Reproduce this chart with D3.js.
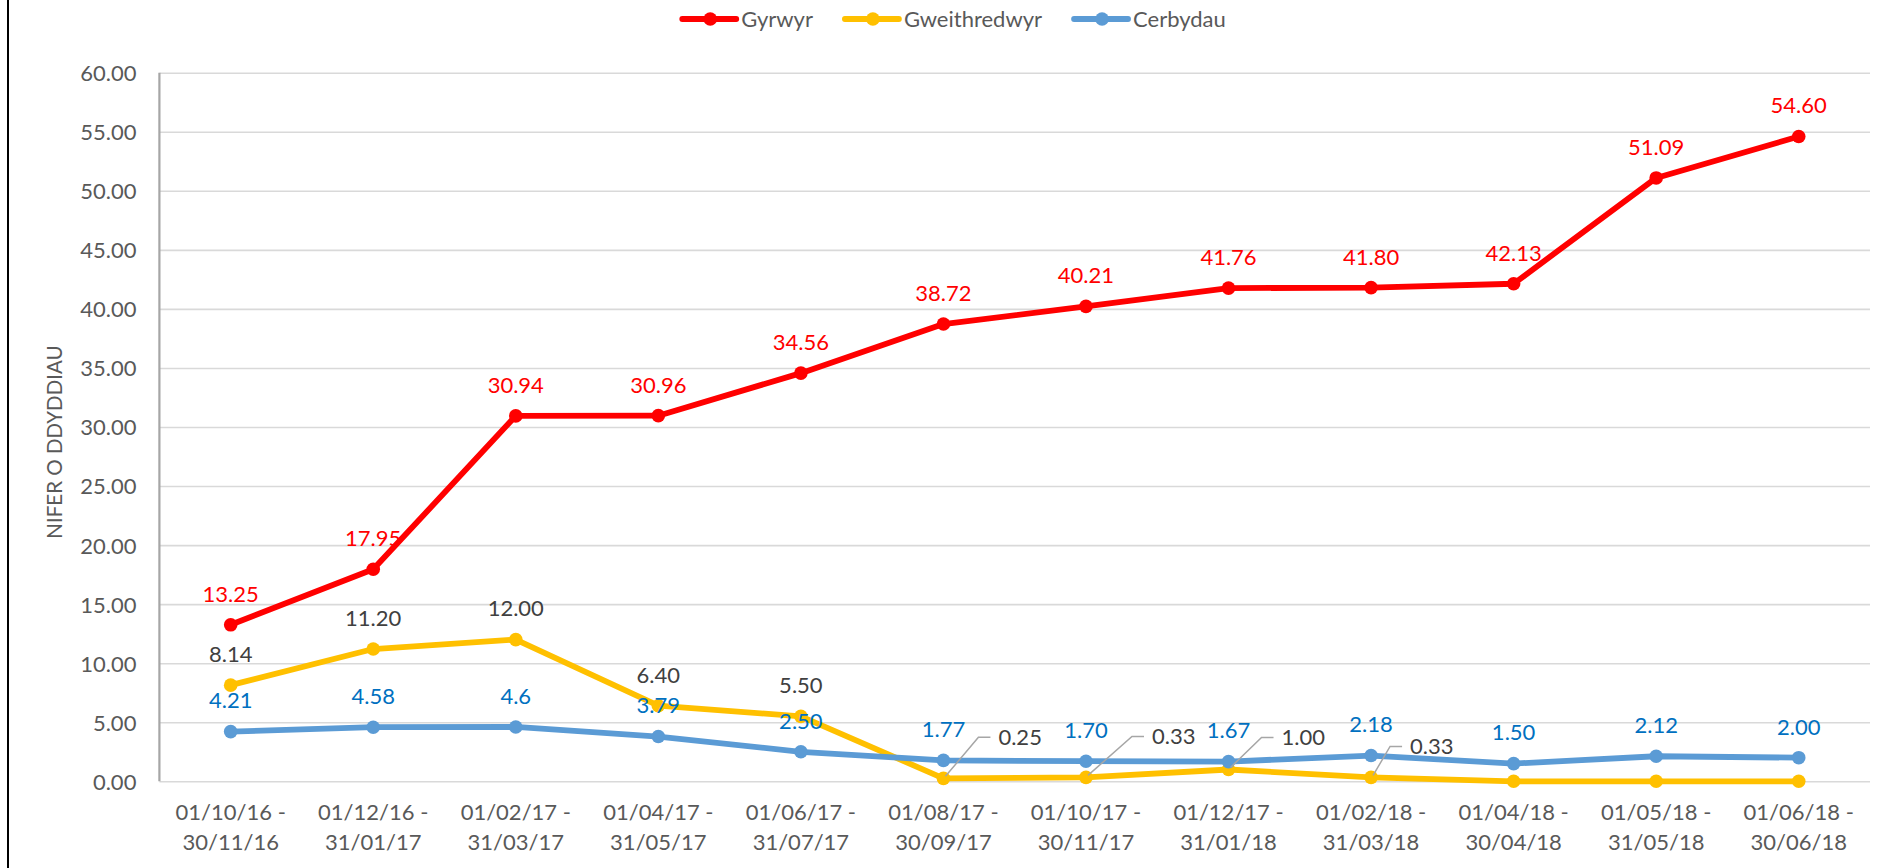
<!DOCTYPE html>
<html>
<head>
<meta charset="utf-8">
<script src="https://cdn.jsdelivr.net/npm/d3@7"></script>
<style>
  body { margin: 0; background: #fff; }
  svg text { font-family: Lato, "Open Sans", sans-serif; }
</style>
</head>
<body>
<svg id="chart" width="1894" height="868"></svg>
<script>

// categories (two-line period labels)
var periods = [
  "01/10/16 -|30/11/16", "01/12/16 -|31/01/17", "01/02/17 -|31/03/17", "01/04/17 -|31/05/17",
  "01/06/17 -|31/07/17", "01/08/17 -|30/09/17", "01/10/17 -|30/11/17", "01/12/17 -|31/01/18",
  "01/02/18 -|31/03/18", "01/04/18 -|30/04/18", "01/05/18 -|31/05/18", "01/06/18 -|30/06/18"
];

var gyrwyr       = [13.25, 17.95, 30.94, 30.96, 34.56, 38.72, 40.21, 41.76, 41.80, 42.13, 51.09, 54.60];
var gweithredwyr = [8.14, 11.20, 12.00, 6.40, 5.50, 0.25, 0.33, 1.00, 0.33, 0, 0, 0];
var cerbydau     = [4.21, 4.58, 4.6, 3.79, 2.50, 1.77, 1.70, 1.67, 2.18, 1.50, 2.12, 2.00];

// data label texts (null = no label shown)
var gyrwyrLabels       = ["13.25", "17.95", "30.94", "30.96", "34.56", "38.72", "40.21", "41.76", "41.80", "42.13", "51.09", "54.60"];
var gweithredwyrLabels = ["8.14", "11.20", "12.00", "6.40", "5.50", "0.25", "0.33", "1.00", "0.33", null, null, null];
var cerbydauLabels     = ["4.21", "4.58", "4.6", "3.79", "2.50", "1.77", "1.70", "1.67", "2.18", "1.50", "2.12", "2.00"];

var yTicks = [0, 5, 10, 15, 20, 25, 30, 35, 40, 45, 50, 55, 60];

var series = [
  {name: "Gyrwyr", values: gyrwyr, labels: gyrwyrLabels, color: "#FF0000", labelColor: "#FF0000"},
  {name: "Gweithredwyr", values: gweithredwyr, labels: gweithredwyrLabels, color: "#FFC000", labelColor: "#404040"},
  {name: "Cerbydau", values: cerbydau, labels: cerbydauLabels, color: "#5B9BD5", labelColor: "#0070C0"}
];

// manually moved labels (with leader lines) on the Gweithredwyr series: [index, dx to text start, dy]
var movedLabels = {5: [55, -41], 6: [66, -41], 7: [53, -32], 8: [39, -31]};

var fs = "22px";

var svg = d3.select("#chart"),
    margin = {top: 72.7, right: 24, bottom: 86.7, left: 159.4},
    width = +svg.attr("width") - margin.left - margin.right,
    height = +svg.attr("height") - margin.top - margin.bottom,
    g = svg.append("g").attr("transform", "translate(" + margin.left + "," + margin.top + ")");

// left frame edge
svg.append("line")
    .attr("x1", 8).attr("x2", 8).attr("y1", 0).attr("y2", 868)
    .attr("stroke", "#000").attr("stroke-width", 2);

var x = d3.scaleBand()
    .domain(periods)
    .range([0, width]);

var y = d3.scaleLinear()
    .domain([0, 60])
    .range([height, 0]);

function cx(i) { return x(periods[i]) + x.bandwidth() / 2; }

// gridlines
g.append("g")
    .call(d3.axisLeft(y).tickValues(yTicks).tickSize(-width).tickFormat(""))
    .call(function(s) { s.select(".domain").remove(); })
    .selectAll("line")
      .attr("stroke", "#D9D9D9")
      .attr("stroke-width", 1.6);

// y axis labels
var yAxis = g.append("g")
    .call(d3.axisLeft(y).tickValues(yTicks).tickSize(0).tickPadding(23).tickFormat(d3.format(".2f")));
yAxis.select(".domain").remove();
yAxis.selectAll("text")
    .attr("fill", "#595959")
    .attr("font-size", fs)
    .attr("dy", "0.36em");

g.append("line")
    .attr("x1", 0).attr("x2", 0).attr("y1", 0).attr("y2", height)
    .attr("stroke", "#A6A6A6").attr("stroke-width", 2.2);

// x axis labels
var xAxis = g.append("g")
    .attr("transform", "translate(0," + height + ")")
    .call(d3.axisBottom(x).tickSize(0).tickFormat(""));
xAxis.select(".domain").remove();
xAxis.selectAll(".tick").each(function(d) {
  var t = d3.select(this).append("text")
      .attr("fill", "#595959")
      .attr("font-size", fs)
      .attr("text-anchor", "middle");
  d.split("|").forEach(function(part, k) {
    t.append("tspan").attr("x", 0).attr("y", 39 + k * 30).text(part);
  });
});

svg.append("text")
    .attr("transform", "translate(62,442) rotate(-90)")
    .attr("text-anchor", "middle")
    .attr("fill", "#595959")
    .attr("font-size", "20.5px")
    .text("NIFER O DDYDDIAU");

// lines and markers
var line = d3.line()
    .x(function(d, i) { return cx(i); })
    .y(function(d) { return y(d); });

series.forEach(function(s) {
  g.append("path")
      .datum(s.values)
      .attr("fill", "none")
      .attr("stroke", s.color)
      .attr("stroke-width", 5.8)
      .attr("stroke-linejoin", "round")
      .attr("d", line);

  g.selectAll(null)
      .data(s.values)
      .enter().append("circle")
      .attr("cx", function(d, i) { return cx(i); })
      .attr("cy", function(d) { return y(d); })
      .attr("r", 6.8)
      .attr("fill", s.color);
});

// data labels
series.forEach(function(s, si) {
  s.values.forEach(function(v, i) {
    var txt = s.labels[i];
    if (txt == null) return;
    var px = cx(i), py = y(v);
    if (si === 1 && movedLabels[i]) {
      var off = movedLabels[i];
      var tx = px + off[0], ty = py + off[1];
      g.append("polyline")
          .attr("points", [[px + 2, py - 2], [tx - 20, ty], [tx - 8, ty]].join(" "))
          .attr("fill", "none")
          .attr("stroke", "#A6A6A6")
          .attr("stroke-width", 1.5);
      g.append("text")
          .attr("x", tx)
          .attr("y", ty)
          .attr("dy", "0.36em")
          .attr("fill", s.labelColor)
          .attr("font-size", fs)
          .text(txt);
    } else {
      g.append("text")
          .attr("x", px)
          .attr("y", py - 31)
          .attr("dy", "0.36em")
          .attr("text-anchor", "middle")
          .attr("fill", s.labelColor)
          .attr("font-size", fs)
          .text(txt);
    }
  });
});

// legend
var legend = svg.append("g");
var lx = 0;
series.forEach(function(s) {
  var item = legend.append("g").attr("transform", "translate(" + lx + ",0)");
  item.append("line")
      .attr("x1", 0).attr("x2", 54).attr("y1", 0).attr("y2", 0)
      .attr("stroke", s.color).attr("stroke-width", 5.8).attr("stroke-linecap", "round");
  item.append("circle").attr("cx", 28).attr("cy", 0).attr("r", 6.8).attr("fill", s.color);
  var t = item.append("text")
      .attr("x", 59).attr("dy", "0.36em")
      .attr("fill", "#595959")
      .attr("font-size", fs)
      .text(s.name);
  lx += 59 + t.node().getComputedTextLength() + 32;
});
lx -= 32;
legend.attr("transform", "translate(" + (954 - lx / 2) + ",19)");

</script>
</body>
</html>
